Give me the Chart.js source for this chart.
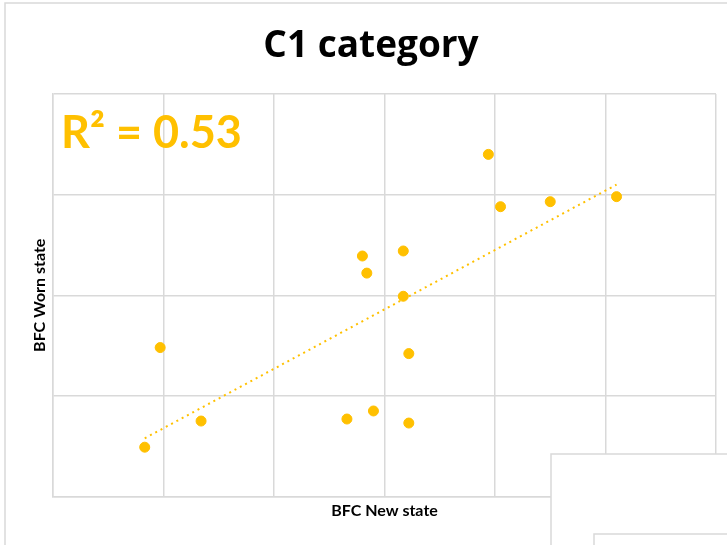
<!DOCTYPE html>
<html>
<head>
<meta charset="utf-8">
<script src="https://cdn.jsdelivr.net/npm/chart.js@4"></script>
<style>
  html, body { margin: 0; padding: 0; background: #fff; }
  #wrap { width: 727px; height: 545px; position: relative; }
</style>
</head>
<body>
<div id="wrap"><canvas id="c" width="727" height="545"></canvas></div>
<script>
// BFC measurements, new vs worn state (C1 category)
const newState  = [0.83, 0.97, 1.34, 2.66, 2.90, 3.22, 3.22, 3.17, 2.84, 2.80, 3.17, 3.94, 4.05, 4.50, 5.10];
const wornState = [0.49, 1.48, 0.75, 0.77, 0.85, 0.73, 1.42, 1.99, 2.22, 2.39, 2.44, 3.40, 2.88, 2.93, 2.98];

const chartTitle = 'C1 category';
const xTitle = 'BFC New state';
const yTitle = 'BFC Worn state';

const ORANGE = '#FFC000';
const GRID = '#d9d9d9';
const FONT = 'Lato, "Open Sans", sans-serif';
const TITLE_FONT = '"Open Sans", Lato, sans-serif';

// least-squares fit and coefficient of determination
const n = newState.length;
const mx = newState.reduce((a, b) => a + b, 0) / n;
const my = wornState.reduce((a, b) => a + b, 0) / n;
let sxx = 0, sxy = 0, syy = 0;
for (let i = 0; i < n; i++) {
  const dx = newState[i] - mx, dy = wornState[i] - my;
  sxx += dx * dx; sxy += dx * dy; syy += dy * dy;
}
const slope = sxy / sxx;
const intercept = my - slope * mx;
const r2 = (sxy * sxy) / (sxx * syy);
const xMin = Math.min(...newState), xMax = Math.max(...newState);

const points = newState.map((x, i) => ({ x, y: wornState[i] }));
const trend = [
  { x: xMin, y: intercept + slope * xMin },
  { x: xMax, y: intercept + slope * xMax }
];

// outer frame of the chart object
const framePlugin = {
  id: 'frame',
  beforeDraw(chart) {
    const ctx = chart.ctx;
    ctx.save();
    ctx.fillStyle = '#fff';
    ctx.fillRect(0, 0, chart.width, chart.height);
    ctx.strokeStyle = GRID;
    ctx.lineWidth = 1.5;
    ctx.strokeRect(5, 3, 900, 900);
    ctx.restore();
  }
};

// R² annotation in the upper-left of the plot
const r2Plugin = {
  id: 'r2label',
  afterDatasetsDraw(chart) {
    const ctx = chart.ctx;
    ctx.save();
    ctx.fillStyle = ORANGE;
    ctx.font = 'bold 45px ' + FONT;
    ctx.textBaseline = 'alphabetic';
    ctx.textAlign = 'left';
    ctx.fillText('R² = ' + r2.toFixed(2), 61, 148);
    ctx.restore();
  }
};

// neighbouring chart objects overlapping the lower-right corner
const overlapPlugin = {
  id: 'overlap',
  afterDraw(chart) {
    const ctx = chart.ctx;
    ctx.save();
    ctx.strokeStyle = GRID;
    ctx.lineWidth = 1.5;
    ctx.fillStyle = '#fff';
    ctx.fillRect(551, 454, 400, 400);
    ctx.strokeRect(551, 454, 400, 400);
    ctx.fillRect(594, 534, 400, 400);
    ctx.strokeRect(594, 534, 400, 400);
    ctx.restore();
  }
};

new Chart(document.getElementById('c'), {
  type: 'scatter',
  data: {
    datasets: [
      {
        label: 'Trend',
        type: 'line',
        data: trend,
        borderColor: ORANGE,
        borderWidth: 2,
        borderDash: [2, 4],
        pointRadius: 0,
        fill: false,
        order: 2
      },
      {
        label: 'C1',
        data: points,
        backgroundColor: ORANGE,
        borderColor: ORANGE,
        pointRadius: 5,
        pointHoverRadius: 5,
        order: 1
      }
    ]
  },
  options: {
    responsive: false,
    animation: false,
    events: [],
    layout: { padding: { top: 0, left: 26, right: 11, bottom: 0 } },
    plugins: {
      legend: { display: false },
      tooltip: { enabled: false },
      title: {
        display: true,
        text: chartTitle,
        color: '#000',
        font: { family: TITLE_FONT, size: 37, weight: 'bold', lineHeight: 1.2 },
        padding: { top: 24.5, bottom: 25.1 }
      }
    },
    scales: {
      x: {
        type: 'linear',
        min: 0, max: 6,
        ticks: { display: false, stepSize: 1 },
        grid: { color: GRID, lineWidth: 1.5, drawTicks: false },
        border: { color: GRID, width: 1.5 },
        title: {
          display: true, text: xTitle, color: '#000',
          font: { family: FONT, size: 16, weight: 'bold', lineHeight: 1.2 },
          padding: { top: 0, bottom: 25 }
        },
        afterFit(scale) { scale.height = 48.5; }
      },
      y: {
        type: 'linear',
        min: 0, max: 4,
        ticks: { display: false, stepSize: 1 },
        grid: { color: GRID, lineWidth: 1.5, drawTicks: false },
        border: { color: GRID, width: 1.5 },
        title: {
          display: true, text: yTitle, color: '#000',
          font: { family: FONT, size: 16, weight: 'bold', lineHeight: 1.2 },
          padding: { top: 4, bottom: 0 }
        },
        afterFit(scale) { scale.width = 27; }
      }
    }
  },
  plugins: [framePlugin, r2Plugin, overlapPlugin]
});
</script>
</body>
</html>
